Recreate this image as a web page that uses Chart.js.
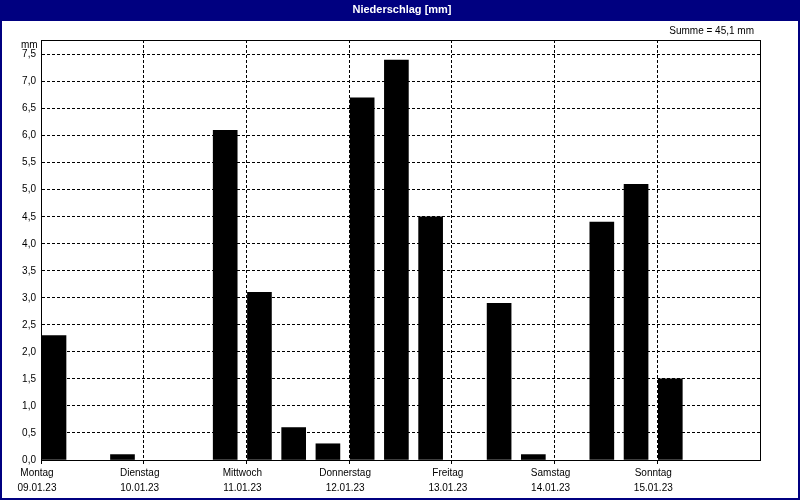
<!DOCTYPE html>
<html>
<head>
<meta charset="utf-8">
<script src="https://cdn.jsdelivr.net/npm/chart.js@4"></script>
<style>
body{margin:0;background:#fff}
canvas{display:block}
</style>
</head>
<body>
<canvas id="rainChart" width="800" height="500"></canvas>
<script>

let days=["Montag","Dienstag","Mittwoch","Donnerstag","Freitag","Samstag","Sonntag"]
let dates=["09.01.23","10.01.23","11.01.23","12.01.23","13.01.23","14.01.23","15.01.23"]

// start hour of each 8h period (0 = Montag 00:00)
let startHours=[0,16,40,48,56,64,72,80,88,104,112,128,136,144]
let rain=[2.3,0.1,6.1,3.1,0.6,0.3,6.7,7.4,4.5,2.9,0.1,4.4,5.1,1.5]

let yTicks=[0,0.5,1,1.5,2,2.5,3,3.5,4,4.5,5,5.5,6,6.5,7,7.5]

let font="'Liberation Sans', Arial, sans-serif"
let navy="#000080"
let barShift=3.04

let total=rain.reduce((a,b)=>a+b,0)

let frame={
id:"frame",
beforeDraw(chart){
let ctx=chart.ctx
ctx.save()
ctx.fillStyle="#fff"
ctx.fillRect(0,0,800,500)
ctx.restore()
},
afterDraw(chart){
let ctx=chart.ctx
let a=chart.chartArea
ctx.save()
ctx.strokeStyle="#000"
ctx.lineWidth=1
ctx.strokeRect(Math.round(a.left)+0.5,Math.round(a.top)+0.5,Math.round(a.right-a.left),Math.round(a.bottom-a.top))

ctx.fillStyle=navy
ctx.fillRect(0,0,800,21)
ctx.fillRect(0,0,2,500)
ctx.fillRect(798,0,2,500)
ctx.fillRect(0,498,800,2)

ctx.fillStyle="#fff"
ctx.font="bold 11px "+font
ctx.textAlign="center"
ctx.textBaseline="middle"
ctx.fillText("Niederschlag [mm]",402,10)

ctx.fillStyle="#000"
ctx.font="10px "+font
ctx.textAlign="right"
ctx.fillText("Summe = "+total.toFixed(1).replace(".",",")+" mm",754,31)

ctx.textAlign="left"
ctx.fillText("mm",21,45)
ctx.restore()
}
}

new Chart(document.getElementById("rainChart"),{

type:"bar",

data:{
datasets:[{
label:"Niederschlag",
data:startHours.map((h,i)=>({x:h,y:rain[i]})),
xAxisID:"xb",
backgroundColor:"#000",
borderWidth:0,
barThickness:24
}]
},

options:{
responsive:false,
animation:false,
layout:{padding:{top:40,right:40,bottom:0,left:0}},
plugins:{legend:{display:false},tooltip:{enabled:false},title:{display:false}},
scales:{
x:{
type:"linear",
min:0,
max:168,
offset:false,
afterFit:s=>{s.height=40},
afterBuildTicks:s=>{s.ticks=days.map((d,i)=>({value:i*24}))},
ticks:{
color:"#000",
font:{family:font,size:10,lineHeight:1.5},
padding:2,
labelOffset:-4,
maxRotation:0,
autoSkip:false,
callback:v=>{let i=Math.round(v/24);return i<days.length?[days[i],dates[i]]:""}
},
grid:{offset:false,color:"#000",lineWidth:1,drawTicks:true,tickLength:4,tickColor:"#000"},
border:{display:true,color:"#000",width:1,dash:[3,2]}
},
xb:{
type:"linear",
display:false,
offset:false,
grid:{offset:false},
min:-barShift,
max:168-barShift
},
y:{
min:0,
max:Math.max(...rain)*1.05,
afterFit:s=>{s.width=41},
afterBuildTicks:s=>{s.ticks=yTicks.map(v=>({value:v}))},
ticks:{
color:"#000",
font:{family:font,size:10},
padding:5,
callback:v=>v.toFixed(1).replace(".",",")
},
grid:{color:"#000",lineWidth:1,drawTicks:false},
border:{display:true,color:"#000",width:1,dash:[3,2]}
}
}
},

plugins:[frame]

})

</script>
</body>
</html>
